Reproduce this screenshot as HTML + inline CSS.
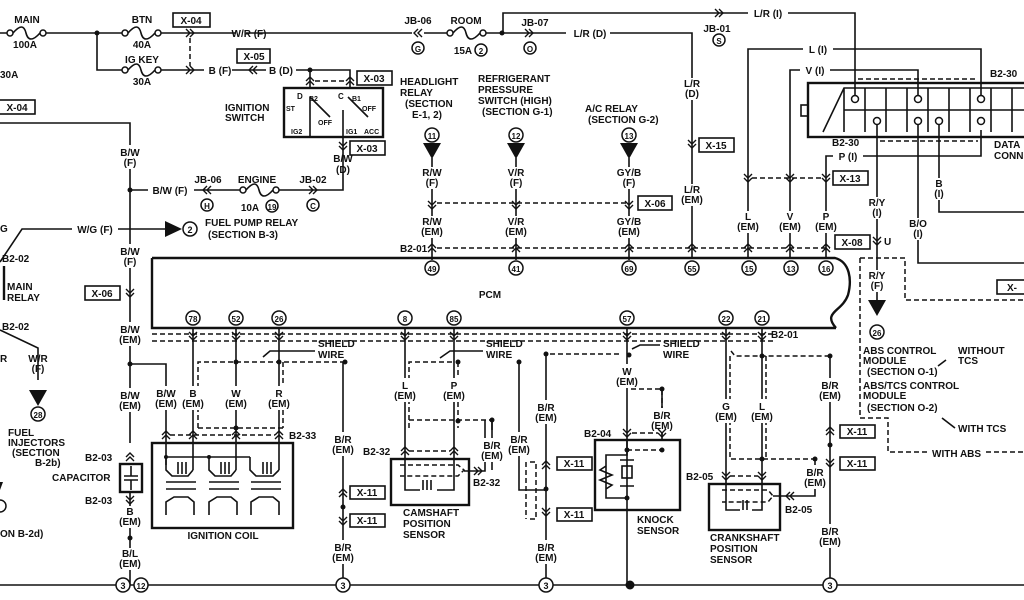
<!DOCTYPE html>
<html><head><meta charset="utf-8"><style>
html,body{margin:0;padding:0;background:#fff;}
svg{display:block;}
text{font-family:"Liberation Sans",sans-serif;font-size:10px;font-weight:bold;fill:#111;}
.m{text-anchor:middle;}
.l{stroke:#111;stroke-width:1.6;fill:none;}
.t{stroke:#111;stroke-width:2.4;fill:none;}
.d{stroke:#111;stroke-width:1.5;fill:none;stroke-dasharray:5,3;}
.c{stroke:#111;stroke-width:1.5;fill:#fff;}
</style></head><body>
<svg width="1024" height="600" viewBox="0 0 1024 600" xmlns="http://www.w3.org/2000/svg">
<defs>
<g id="cd"><path d="M-4,-4 L0,0 L4,-4 M-4,0 L0,4 L4,0" stroke="#111" stroke-width="1.4" fill="none"/></g>
<g id="cu"><path d="M-4,4 L0,0 L4,4 M-4,0 L0,-4 L4,0" stroke="#111" stroke-width="1.4" fill="none"/></g>
<g id="cr"><path d="M-4,-4 L0,0 L-4,4 M0,-4 L4,0 L0,4" stroke="#111" stroke-width="1.4" fill="none"/></g>
<g id="cl"><path d="M4,-4 L0,0 L4,4 M0,-4 L-4,0 L0,4" stroke="#111" stroke-width="1.4" fill="none"/></g>
<g id="fuse"><circle cx="0" cy="0" r="3" class="c"/><circle cx="33" cy="0" r="3" class="c"/><path d="M3,0 C10,-8 14,-8 16,0 S23,8 30,0" class="l"/></g>
<g id="tri"><path d="M-9,0 L9,0 L0,16 Z" fill="#111"/></g>
</defs>

<!-- top power -->
<path d="M0,33 H10 M46,33 H125 M158,33 H412 M424,33 H450 M483,33 H692 V258" class="l"/>
<use href="#fuse" x="10" y="33"/><use href="#fuse" x="125" y="33"/><use href="#fuse" x="450" y="33"/>
<text x="27" y="23" class="m">MAIN</text><text x="25" y="48" class="m">100A</text>
<text x="142" y="23" class="m">BTN</text><text x="142" y="48" class="m">40A</text>
<circle cx="97" cy="33" r="2.5" fill="#111"/><circle cx="502" cy="33" r="2.5" fill="#111"/>
<rect x="173" y="13" width="37" height="14" class="l"/><text x="191" y="24" class="m">X-04</text>
<use href="#cr" x="190" y="33"/><path d="M190,38 V66" class="d"/>
<rect x="236" y="27" width="10" height="12" fill="#fff"/><text x="249" y="37" class="m">W/R (F)</text>
<use href="#cl" x="418" y="33"/><text x="418" y="24" class="m">JB-06</text>
<circle cx="418" cy="48" r="6" class="c"/><text x="418" y="52" class="m" style="font-size:8px">G</text>
<text x="466" y="24" class="m">ROOM</text><text x="463" y="54" class="m">15A</text>
<circle cx="481" cy="50" r="6" class="c"/><text x="481" y="54" class="m" style="font-size:8px">2</text>
<use href="#cr" x="529" y="33"/><text x="535" y="26" class="m">JB-07</text>
<circle cx="530" cy="48" r="6" class="c"/><text x="530" y="52" class="m" style="font-size:8px">O</text>
<rect x="566" y="27" width="44" height="12" fill="#fff"/><text x="590" y="37" class="m">L/R (D)</text>
<path d="M503,33 V13 H855 V95" class="l"/><use href="#cr" x="719" y="13"/>
<rect x="748" y="6" width="40" height="12" fill="#fff"/><text x="768" y="17" class="m">L/R (I)</text>
<text x="717" y="32" class="m">JB-01</text><circle cx="719" cy="40" r="6" class="c"/><text x="719" y="44" class="m" style="font-size:8px">S</text>
<!-- ig key -->
<path d="M97,33 V70 H125 M158,70 H350 V88" class="l"/>
<use href="#fuse" x="125" y="70"/><text x="142" y="63" class="m">IG KEY</text><text x="142" y="85" class="m">30A</text>
<use href="#cr" x="190" y="70"/>
<rect x="204" y="64" width="28" height="12" fill="#fff"/><text x="220" y="74" class="m">B (F)</text>
<rect x="237" y="49" width="33" height="14" class="l"/><text x="254" y="60" class="m">X-05</text>
<use href="#cl" x="253" y="70"/>
<rect x="266" y="64" width="30" height="12" fill="#fff"/><text x="281" y="74" class="m">B (D)</text>
<circle cx="310" cy="70" r="2.5" fill="#111"/><path d="M310,70 V88" class="l"/>
<use href="#cu" x="310" y="81"/><use href="#cu" x="350" y="81"/><path d="M315,81 H346" class="d"/>
<rect x="357" y="71" width="35" height="14" class="l"/><text x="374" y="82" class="m">X-03</text>
<text x="0" y="78">30A</text>
<rect x="-2" y="100" width="37" height="14" class="l"/><text x="17" y="111" class="m">X-04</text>
<!-- ignition switch -->
<rect x="284" y="88" width="99" height="49" class="t"/>
<text x="225" y="111">IGNITION</text><text x="225" y="121">SWITCH</text>
<text x="297" y="99" style="font-size:8px">D</text><text x="338" y="99" style="font-size:8px">C</text>
<text x="309" y="101" style="font-size:7px">B2</text><text x="352" y="101" style="font-size:7px">B1</text>
<text x="286" y="111" style="font-size:7px">ST</text><text x="362" y="111" style="font-size:7px">OFF</text>
<text x="318" y="125" style="font-size:7px">OFF</text><text x="291" y="134" style="font-size:7px">IG2</text>
<text x="346" y="134" style="font-size:7px">IG1</text><text x="364" y="134" style="font-size:7px">ACC</text>
<path d="M310,97 L330,117 M348,97 L368,117 M310,97 V137 M343,110 V137" class="l"/>
<use href="#cd" x="343" y="146"/>
<rect x="350" y="141" width="35" height="14" class="l"/><text x="367" y="152" class="m">X-03</text>
<path d="M343,137 V190 H130" class="l"/>
<text x="343" y="162" class="m">B/W</text><text x="343" y="173" class="m">(D)</text>
<!-- engine fuse line -->
<rect x="148" y="184" width="46" height="12" fill="#fff"/><text x="170" y="194" class="m">B/W (F)</text>
<use href="#cl" x="207" y="190"/><text x="208" y="183" class="m">JB-06</text>
<circle cx="207" cy="205" r="6" class="c"/><text x="207" y="209" class="m" style="font-size:8px">H</text>
<rect x="240" y="184" width="36" height="12" fill="#fff"/><use href="#fuse" x="243" y="190"/>
<text x="257" y="183" class="m">ENGINE</text><text x="250" y="211" class="m">10A</text>
<circle cx="272" cy="206" r="6" class="c"/><text x="272" y="210" class="m" style="font-size:8px">19</text>
<use href="#cr" x="313" y="190"/><text x="313" y="183" class="m">JB-02</text>
<circle cx="313" cy="205" r="6" class="c"/><text x="313" y="209" class="m" style="font-size:8px">C</text>
<!-- left vertical B/W -->
<path d="M0,123 H130 V443" class="l"/><circle cx="130" cy="190" r="2.5" fill="#111"/>
<rect x="115" y="145" width="30" height="24" fill="#fff"/><text x="130" y="156" class="m">B/W</text><text x="130" y="166" class="m">(F)</text>
<rect x="115" y="244" width="30" height="24" fill="#fff"/><text x="130" y="255" class="m">B/W</text><text x="130" y="265" class="m">(F)</text>
<use href="#cd" x="130" y="293"/>
<rect x="85" y="286" width="35" height="14" class="l"/><text x="102" y="297" class="m">X-06</text>
<rect x="113" y="322" width="34" height="24" fill="#fff"/><text x="130" y="333" class="m">B/W</text><text x="130" y="343" class="m">(EM)</text>
<circle cx="130" cy="364" r="2.5" fill="#111"/><path d="M130,364 H166 V465" class="l"/>
<rect x="113" y="388" width="34" height="24" fill="#fff"/><text x="130" y="399" class="m">B/W</text><text x="130" y="409" class="m">(EM)</text>
<use href="#cu" x="130" y="457"/><text x="85" y="461">B2-03</text>
<rect x="120" y="464" width="22" height="28" class="t" fill="#fff"/><path d="M124,476 H138 M124,480 H138 M131,466 V476 M131,480 V490" class="l"/>
<text x="52" y="481">CAPACITOR</text>
<use href="#cd" x="130" y="500"/><text x="85" y="504">B2-03</text>
<path d="M130,492 V585" class="l"/>
<rect x="116" y="506" width="28" height="22" fill="#fff"/><text x="130" y="515" class="m">B</text><text x="130" y="525" class="m">(EM)</text>
<circle cx="130" cy="538" r="2.5" fill="#111"/>
<rect x="116" y="548" width="28" height="22" fill="#fff"/><text x="130" y="557" class="m">B/L</text><text x="130" y="567" class="m">(EM)</text>
<!-- W/G fuel pump -->
<path d="M0,262 L22,229 H165" class="l"/>
<rect x="72" y="223" width="46" height="12" fill="#fff"/><text x="95" y="233" class="m">W/G (F)</text>
<text x="0" y="232">G</text>
<path d="M165,221 L182,229 L165,237 Z" fill="#111"/><circle cx="190" cy="229" r="7" class="c"/><text x="190" y="233" class="m" style="font-size:9px">2</text>
<text x="205" y="226">FUEL PUMP RELAY</text><text x="208" y="238">(SECTION B-3)</text>
<text x="2" y="262">B2-02</text><path d="M4,266 V300" class="t"/>
<text x="7" y="290">MAIN</text><text x="7" y="301">RELAY</text>
<text x="2" y="330">B2-02</text>
<path d="M0,330 L38,348 V380" class="l"/>
<text x="0" y="362">R</text><text x="38" y="362" class="m">W/R</text><text x="38" y="372" class="m">(F)</text>
<use href="#tri" x="38" y="390"/><circle cx="38" cy="414" r="7" class="c"/><text x="38" y="418" class="m" style="font-size:8px">28</text>
<text x="8" y="436">FUEL</text><text x="8" y="446">INJECTORS</text><text x="12" y="456">(SECTION</text><text x="35" y="466">B-2b)</text>
<path d="M-5,482 L3,482 L0,490Z" fill="#111"/><circle cx="0" cy="506" r="6" class="c"/>
<text x="0" y="537">ON B-2d)</text>
<!-- PCM -->
<path d="M152,258 H835 C850,262 852,280 848,295 C842,312 822,312 836,328 M152,258 V328 H836" class="t"/>
<text x="490" y="298" class="m">PCM</text>
<text x="400" y="252">B2-01</text>
<path d="M437,248 H830" class="d"/><path d="M437,203 H629" class="d"/>
<!-- top inputs -->
<text x="400" y="85">HEADLIGHT</text><text x="400" y="96">RELAY</text><text x="405" y="107">(SECTION</text><text x="412" y="118">E-1, 2)</text>
<text x="478" y="82">REFRIGERANT</text><text x="478" y="93">PRESSURE</text><text x="478" y="104">SWITCH (HIGH)</text><text x="482" y="115">(SECTION G-1)</text>
<text x="585" y="112">A/C RELAY</text><text x="588" y="123">(SECTION G-2)</text>
<g>
<circle cx="432" cy="135" r="7" class="c"/><text x="432" y="139" class="m" style="font-size:8px">11</text><use href="#tri" x="432" y="143"/>
<circle cx="516" cy="135" r="7" class="c"/><text x="516" y="139" class="m" style="font-size:8px">12</text><use href="#tri" x="516" y="143"/>
<circle cx="629" cy="135" r="7" class="c"/><text x="629" y="139" class="m" style="font-size:8px">13</text><use href="#tri" x="629" y="143"/>
</g>
<path d="M432,158 V260 M516,158 V260 M629,158 V260" class="l"/>
<rect x="414" y="167" width="36" height="22" fill="#fff"/><text x="432" y="176" class="m">R/W</text><text x="432" y="186" class="m">(F)</text>
<rect x="498" y="167" width="36" height="22" fill="#fff"/><text x="516" y="176" class="m">V/R</text><text x="516" y="186" class="m">(F)</text>
<rect x="611" y="167" width="36" height="22" fill="#fff"/><text x="629" y="176" class="m">GY/B</text><text x="629" y="186" class="m">(F)</text>
<rect x="414" y="216" width="36" height="22" fill="#fff"/><text x="432" y="225" class="m">R/W</text><text x="432" y="235" class="m">(EM)</text>
<rect x="498" y="216" width="36" height="22" fill="#fff"/><text x="516" y="225" class="m">V/R</text><text x="516" y="235" class="m">(EM)</text>
<rect x="611" y="216" width="36" height="22" fill="#fff"/><text x="629" y="225" class="m">GY/B</text><text x="629" y="235" class="m">(EM)</text>
<use href="#cd" x="432" y="205"/><use href="#cd" x="516" y="205"/><use href="#cd" x="629" y="205"/>
<rect x="638" y="196" width="34" height="14" class="l"/><text x="655" y="207" class="m">X-06</text>
<rect x="678" y="78" width="28" height="22" fill="#fff"/><text x="692" y="87" class="m">L/R</text><text x="692" y="97" class="m">(D)</text>
<use href="#cd" x="692" y="144"/>
<rect x="699" y="138" width="35" height="14" class="l"/><text x="716" y="149" class="m">X-15</text>
<rect x="678" y="184" width="28" height="22" fill="#fff"/><text x="692" y="193" class="m">L/R</text><text x="692" y="203" class="m">(EM)</text>
<!-- data connector wires -->
<path d="M748,258 V49 H981 V95 M790,258 V70 H918 V95 M826,258 V156 H981 V130" class="l"/>
<rect x="803" y="43" width="30" height="12" fill="#fff"/><text x="818" y="53" class="m">L (I)</text>
<rect x="800" y="64" width="30" height="12" fill="#fff"/><text x="815" y="74" class="m">V (I)</text>
<rect x="833" y="150" width="30" height="12" fill="#fff"/><text x="848" y="160" class="m">P (I)</text>
<path d="M752,178 H822" class="d"/><use href="#cd" x="748" y="178"/><use href="#cd" x="790" y="178"/><use href="#cd" x="826" y="178"/>
<rect x="833" y="171" width="35" height="14" class="l"/><text x="850" y="182" class="m">X-13</text>
<rect x="734" y="211" width="28" height="22" fill="#fff"/><text x="748" y="220" class="m">L</text><text x="748" y="230" class="m">(EM)</text>
<rect x="776" y="211" width="28" height="22" fill="#fff"/><text x="790" y="220" class="m">V</text><text x="790" y="230" class="m">(EM)</text>
<rect x="812" y="211" width="28" height="22" fill="#fff"/><text x="826" y="220" class="m">P</text><text x="826" y="230" class="m">(EM)</text>
<use href="#cu" x="432" y="248"/><use href="#cu" x="516" y="248"/><use href="#cu" x="629" y="248"/><use href="#cu" x="692" y="248"/><use href="#cu" x="748" y="248"/><use href="#cu" x="790" y="248"/><use href="#cu" x="826" y="248"/>
<rect x="835" y="235" width="35" height="14" class="l"/><text x="852" y="246" class="m">X-08</text>
<use href="#cd" x="877" y="241"/><text x="884" y="245">U</text>
<!-- pins top -->
<g>
<circle cx="432" cy="268" r="7" class="c"/><text x="432" y="272" class="m" style="font-size:8px">49</text>
<circle cx="516" cy="268" r="7" class="c"/><text x="516" y="272" class="m" style="font-size:8px">41</text>
<circle cx="629" cy="268" r="7" class="c"/><text x="629" y="272" class="m" style="font-size:8px">69</text>
<circle cx="692" cy="268" r="7" class="c"/><text x="692" y="272" class="m" style="font-size:8px">55</text>
<circle cx="749" cy="268" r="7" class="c"/><text x="749" y="272" class="m" style="font-size:8px">15</text>
<circle cx="791" cy="268" r="7" class="c"/><text x="791" y="272" class="m" style="font-size:8px">13</text>
<circle cx="826" cy="268" r="7" class="c"/><text x="826" y="272" class="m" style="font-size:8px">16</text>
</g>
<!-- data connector -->
<rect x="808" y="83" width="220" height="54" class="t"/>
<rect x="801" y="105" width="7" height="11" class="l"/>
<path d="M823,132 L844,88 H1024 M844,88 V132 M844,110 H1024 M865,88 V132 M886,88 V132 M907,88 V132 M928,88 V132 M949,88 V132 M970,88 V132 M991,88 V132 M1012,88 V132" class="l"/>
<circle cx="855" cy="99" r="3.5" class="c"/><circle cx="918" cy="99" r="3.5" class="c"/><circle cx="981" cy="99" r="3.5" class="c"/>
<circle cx="877" cy="121" r="3.5" class="c"/><circle cx="918" cy="121" r="3.5" class="c"/><circle cx="939" cy="121" r="3.5" class="c"/><circle cx="981" cy="121" r="3.5" class="c"/>
<path d="M858,79 H978" class="d"/><path d="M880,141 H978" class="d"/>
<text x="990" y="77">B2-30</text><text x="832" y="146">B2-30</text>
<text x="994" y="148">DATA</text><text x="994" y="159">CONN</text>
<path d="M877,124 V300 M918,124 V263 H1024 M939,124 V212 H1024" class="l"/>
<rect x="862" y="197" width="30" height="22" fill="#fff"/><text x="877" y="206" class="m">R/Y</text><text x="877" y="216" class="m">(I)</text>
<rect x="925" y="178" width="28" height="22" fill="#fff"/><text x="939" y="187" class="m">B</text><text x="939" y="197" class="m">(I)</text>
<rect x="904" y="218" width="28" height="22" fill="#fff"/><text x="918" y="227" class="m">B/O</text><text x="918" y="237" class="m">(I)</text>
<rect x="997" y="280" width="30" height="14" class="l"/><text x="1012" y="291" class="m">X-</text>
<path d="M860,258 H905 V300 H1024 M860,258 V418 H888 V452 H928 M986,452 H1024" class="d"/>
<rect x="862" y="270" width="30" height="22" fill="#fff"/><text x="877" y="279" class="m">R/Y</text><text x="877" y="289" class="m">(F)</text>
<use href="#tri" x="877" y="300"/><circle cx="877" cy="332" r="7" class="c"/><text x="877" y="336" class="m" style="font-size:8px">26</text>
<text x="863" y="354">ABS CONTROL</text><text x="863" y="364">MODULE</text><text x="867" y="375">(SECTION O-1)</text>
<text x="863" y="389">ABS/TCS CONTROL</text><text x="863" y="399">MODULE</text><text x="867" y="411">(SECTION O-2)</text>
<text x="958" y="354">WITHOUT</text><text x="958" y="364">TCS</text><path d="M946,360 L938,366" class="l"/>
<text x="958" y="432">WITH TCS</text><path d="M942,418 L955,428" class="l"/>
<text x="932" y="457">WITH ABS</text>
<!-- bottom pins -->
<g>
<circle cx="193" cy="318" r="7" class="c"/><text x="193" y="322" class="m" style="font-size:8px">78</text>
<circle cx="236" cy="318" r="7" class="c"/><text x="236" y="322" class="m" style="font-size:8px">52</text>
<circle cx="279" cy="318" r="7" class="c"/><text x="279" y="322" class="m" style="font-size:8px">26</text>
<circle cx="405" cy="318" r="7" class="c"/><text x="405" y="322" class="m" style="font-size:8px">8</text>
<circle cx="454" cy="318" r="7" class="c"/><text x="454" y="322" class="m" style="font-size:8px">85</text>
<circle cx="627" cy="318" r="7" class="c"/><text x="627" y="322" class="m" style="font-size:8px">57</text>
<circle cx="726" cy="318" r="7" class="c"/><text x="726" y="322" class="m" style="font-size:8px">22</text>
<circle cx="762" cy="318" r="7" class="c"/><text x="762" y="322" class="m" style="font-size:8px">21</text>
</g>
<path d="M152,334 H775 M152,341 H775" class="d"/>
<text x="771" y="338">B2-01</text>
<!-- ignition coil -->
<path d="M193,328 V470 M236,328 V470 M279,328 V470" class="l"/>
<use href="#cd" x="193" y="336"/><use href="#cd" x="236" y="336"/><use href="#cd" x="279" y="336"/>
<path d="M198,428 V362 H345 M283,362 V428 M198,428 H283" class="d"/>
<circle cx="236" cy="362" r="2.5" fill="#111"/><circle cx="279" cy="362" r="2.5" fill="#111"/><circle cx="236" cy="428" r="2.5" fill="#111"/>
<circle cx="345" cy="362" r="2.5" fill="#111"/>
<text x="318" y="347">SHIELD</text><text x="318" y="358">WIRE</text><path d="M315,351 H270 L263,357" class="l"/>
<rect x="150" y="386" width="32" height="24" fill="#fff"/><text x="166" y="397" class="m">B/W</text><text x="166" y="407" class="m">(EM)</text>
<rect x="179" y="386" width="28" height="24" fill="#fff"/><text x="193" y="397" class="m">B</text><text x="193" y="407" class="m">(EM)</text>
<rect x="222" y="386" width="28" height="24" fill="#fff"/><text x="236" y="397" class="m">W</text><text x="236" y="407" class="m">(EM)</text>
<rect x="265" y="386" width="28" height="24" fill="#fff"/><text x="279" y="397" class="m">R</text><text x="279" y="407" class="m">(EM)</text>
<path d="M170,435 H275" class="d"/>
<use href="#cu" x="166" y="435"/><use href="#cu" x="193" y="435"/><use href="#cu" x="236" y="435"/><use href="#cu" x="279" y="435"/>
<text x="289" y="439">B2-33</text>
<rect x="152" y="443" width="141" height="85" class="t"/>
<path d="M166,457 H250 M166,457 V470 L172,476 H188 L193,470 M209,457 V470 L215,476 H231 L236,470 M250,457 V470 L256,476 H273 L279,470" class="l"/>
<path d="M178,474 V462 M182,474 V462 M186,474 V462 M221,474 V462 M225,474 V462 M229,474 V462 M263,474 V462 M267,474 V462 M271,474 V462" class="l"/>
<circle cx="166" cy="457" r="2" fill="#111"/><circle cx="209" cy="457" r="2" fill="#111"/>
<path d="M166,482 H196 M166,489 H196 M209,482 H239 M209,489 H239 M251,482 H281 M251,489 H281" class="l"/>
<path d="M166,515 V502 L174,497 H188 L194,502 V515 M209,515 V502 L217,497 H231 L237,502 V515 M251,515 V502 L259,497 H273 L279,502 V515" class="l"/>
<text x="223" y="539" class="m">IGNITION COIL</text>
<!-- B/R 343 -->
<path d="M343,362 V585" class="l"/>
<rect x="327" y="432" width="32" height="24" fill="#fff"/><text x="343" y="443" class="m">B/R</text><text x="343" y="453" class="m">(EM)</text>
<use href="#cu" x="343" y="493"/><use href="#cd" x="343" y="521"/><circle cx="343" cy="507" r="2.5" fill="#111"/>
<rect x="350" y="486" width="35" height="13" class="l"/><text x="367" y="496" class="m">X-11</text>
<rect x="350" y="514" width="35" height="13" class="l"/><text x="367" y="524" class="m">X-11</text>
<rect x="327" y="540" width="32" height="24" fill="#fff"/><text x="343" y="551" class="m">B/R</text><text x="343" y="561" class="m">(EM)</text>
<!-- camshaft -->
<path d="M405,328 V475 M454,328 V475" class="l"/>
<use href="#cd" x="405" y="336"/><use href="#cd" x="454" y="336"/>
<path d="M409,428 V362 H455 M458,362 V428 M409,420 H490" class="d"/><circle cx="458" cy="362" r="2.5" fill="#111"/><circle cx="458" cy="421" r="2.5" fill="#111"/>
<text x="486" y="347">SHIELD</text><text x="486" y="358">WIRE</text><path d="M483,351 H450 L440,358" class="l"/>
<rect x="391" y="378" width="28" height="24" fill="#fff"/><text x="405" y="389" class="m">L</text><text x="405" y="399" class="m">(EM)</text>
<rect x="440" y="378" width="28" height="24" fill="#fff"/><text x="454" y="389" class="m">P</text><text x="454" y="399" class="m">(EM)</text>
<path d="M409,451 H450" class="d"/><use href="#cu" x="405" y="451"/><use href="#cu" x="454" y="451"/>
<text x="363" y="455">B2-32</text>
<rect x="391" y="459" width="78" height="46" class="t"/>
<path d="M400,465 H458 L464,470 L458,476 H400" class="d"/>
<path d="M405,475 V490 H420 M437,490 H454 V475" class="l"/>
<path d="M423,490 V480 M427,490 V480 M431,490 V480" class="l"/>
<path d="M464,471 H485 V420 M492,420 V430" class="l"/><use href="#cr" x="478" y="471"/>
<circle cx="492" cy="420" r="2.5" fill="#111"/><path d="M492,420 V470" class="l"/>
<rect x="477" y="438" width="30" height="24" fill="#fff"/><text x="492" y="449" class="m">B/R</text><text x="492" y="459" class="m">(EM)</text>
<text x="473" y="486">B2-32</text>
<text x="403" y="516">CAMSHAFT</text><text x="403" y="527">POSITION</text><text x="403" y="538">SENSOR</text>
<!-- 519/546 -->
<circle cx="519" cy="362" r="2.5" fill="#111"/><path d="M519,362 V490 H546" class="l"/>
<rect x="504" y="432" width="30" height="24" fill="#fff"/><text x="519" y="443" class="m">B/R</text><text x="519" y="453" class="m">(EM)</text>
<path d="M530,462 H536 V519 H530 M526,462 V519" class="d"/>
<circle cx="546" cy="354" r="2.5" fill="#111"/><path d="M546,354 V585" class="l"/><path d="M550,354 H620" class="d"/>
<rect x="531" y="400" width="30" height="24" fill="#fff"/><text x="546" y="411" class="m">B/R</text><text x="546" y="421" class="m">(EM)</text>
<use href="#cu" x="546" y="465"/><use href="#cd" x="546" y="512"/><circle cx="546" cy="489" r="2.5" fill="#111"/>
<rect x="557" y="457" width="35" height="13" class="l"/><text x="574" y="467" class="m">X-11</text>
<rect x="557" y="508" width="35" height="13" class="l"/><text x="574" y="518" class="m">X-11</text>
<rect x="531" y="540" width="30" height="24" fill="#fff"/><text x="546" y="551" class="m">B/R</text><text x="546" y="561" class="m">(EM)</text>
<!-- knock -->
<path d="M627,328 V585" class="l"/><use href="#cd" x="627" y="336"/><circle cx="629" cy="355" r="2.5" fill="#111"/>
<circle cx="630" cy="585" r="4.5" fill="#111"/>
<text x="663" y="347">SHIELD</text><text x="663" y="358">WIRE</text><path d="M660,345 H640 L632,349" class="l"/>
<path d="M731,351 L735,356 H829" class="d"/>
<rect x="613" y="364" width="30" height="24" fill="#fff"/><text x="627" y="375" class="m">W</text><text x="627" y="385" class="m">(EM)</text>
<path d="M631,389 H662 V436" class="d"/><circle cx="662" cy="389" r="2.5" fill="#111"/><path d="M662,389 V440" class="l"/>
<rect x="647" y="408" width="30" height="24" fill="#fff"/><text x="662" y="419" class="m">B/R</text><text x="662" y="429" class="m">(EM)</text>
<path d="M632,433 H658" class="d"/><use href="#cd" x="627" y="433"/><use href="#cd" x="662" y="433"/>
<text x="584" y="437">B2-04</text>
<rect x="595" y="440" width="85" height="70" class="t"/>
<path d="M627,450 H662" class="d"/><circle cx="627" cy="450" r="2.5" fill="#111"/><circle cx="662" cy="450" r="2.5" fill="#111"/>
<path d="M627,440 V455 H606 V498 H627 M606,466 L600,470 L612,475 L600,480 L612,485 L606,489" class="l"/>
<path d="M620,460 H634 M620,486 H634" class="l"/><rect x="622" y="466" width="10" height="12" class="l"/>
<circle cx="627" cy="498" r="2.5" fill="#111"/>
<text x="637" y="523">KNOCK</text><text x="637" y="534">SENSOR</text>
<!-- crank -->
<path d="M726,328 V484 M762,328 V484" class="l"/><use href="#cd" x="726" y="336"/><use href="#cd" x="762" y="336"/>
<path d="M730,356 V459 H815 M766,356 V459" class="d"/><circle cx="762" cy="356" r="2.5" fill="#111"/><circle cx="762" cy="459" r="2.5" fill="#111"/>
<rect x="712" y="399" width="28" height="24" fill="#fff"/><text x="726" y="410" class="m">G</text><text x="726" y="420" class="m">(EM)</text>
<rect x="748" y="399" width="28" height="24" fill="#fff"/><text x="762" y="410" class="m">L</text><text x="762" y="420" class="m">(EM)</text>
<path d="M730,476 H758" class="d"/><use href="#cd" x="726" y="476"/><use href="#cd" x="762" y="476"/>
<text x="686" y="480">B2-05</text>
<rect x="709" y="484" width="71" height="46" class="t"/>
<path d="M722,490 H768 L773,496 L768,502 H722" class="d"/>
<path d="M726,484 V510 H740 M752,510 H762 V484 M743,510 V500 M747,510 V500" class="l"/>
<circle cx="815" cy="459" r="2.5" fill="#111"/><path d="M815,459 V496 H773" class="l"/><use href="#cl" x="790" y="496"/>
<rect x="800" y="465" width="30" height="24" fill="#fff"/><text x="815" y="476" class="m">B/R</text><text x="815" y="486" class="m">(EM)</text>
<text x="785" y="513">B2-05</text>
<text x="710" y="541">CRANKSHAFT</text><text x="710" y="552">POSITION</text><text x="710" y="563">SENSOR</text>
<!-- 830 -->
<circle cx="830" cy="356" r="2.5" fill="#111"/><path d="M830,356 V585" class="l"/>
<rect x="815" y="378" width="30" height="24" fill="#fff"/><text x="830" y="389" class="m">B/R</text><text x="830" y="399" class="m">(EM)</text>
<use href="#cu" x="830" y="431"/><use href="#cd" x="830" y="463"/><circle cx="830" cy="445" r="2.5" fill="#111"/>
<rect x="840" y="425" width="35" height="13" class="l"/><text x="857" y="435" class="m">X-11</text>
<rect x="840" y="457" width="35" height="13" class="l"/><text x="857" y="467" class="m">X-11</text>
<rect x="815" y="524" width="30" height="24" fill="#fff"/><text x="830" y="535" class="m">B/R</text><text x="830" y="545" class="m">(EM)</text>
<!-- ground -->
<path d="M0,585 H1024" class="l"/>
<g>
<circle cx="123" cy="585" r="7" class="c"/><text x="123" y="589" class="m" style="font-size:9px">3</text>
<circle cx="141" cy="585" r="7" class="c"/><text x="141" y="589" class="m" style="font-size:8px">12</text>
<circle cx="343" cy="585" r="7" class="c"/><text x="343" y="589" class="m" style="font-size:9px">3</text>
<circle cx="546" cy="585" r="7" class="c"/><text x="546" y="589" class="m" style="font-size:9px">3</text>
<circle cx="830" cy="585" r="7" class="c"/><text x="830" y="589" class="m" style="font-size:9px">3</text>
</g>
</svg>
</body></html>
